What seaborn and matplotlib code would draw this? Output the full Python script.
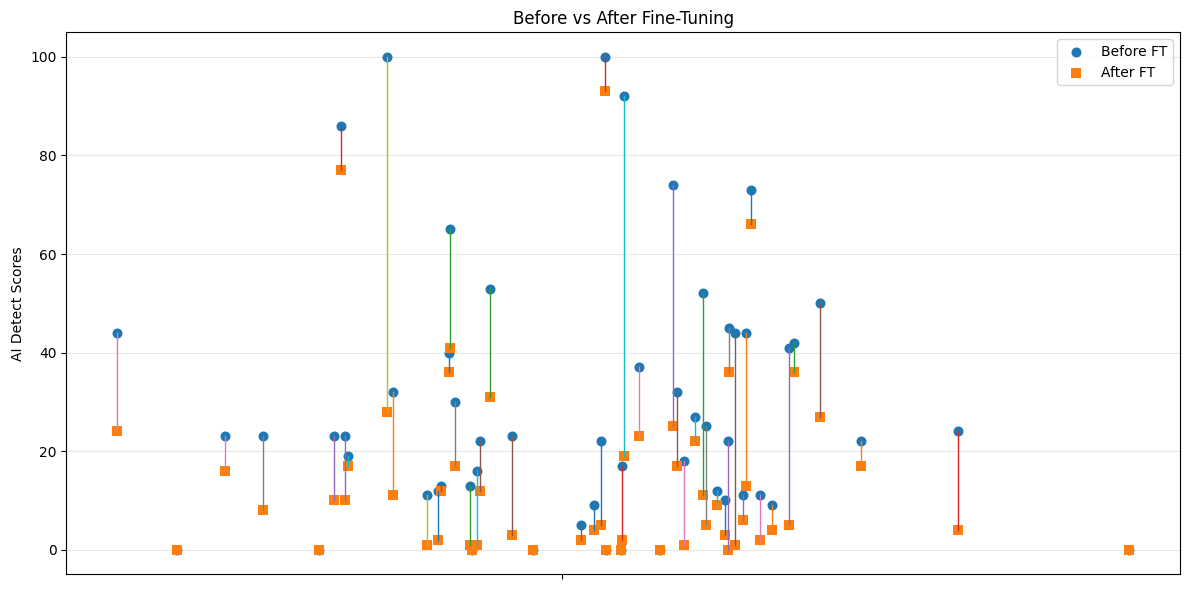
import numpy as np
import pandas as pd
import matplotlib
matplotlib.use('Agg')
import matplotlib.pyplot as plt
import seaborn as sns

# Dados (ordem original das amostras; x = posição da amostra)
posicao = [317, 273, 329, 221, 214, 359, 0, 144, 267, 228,
           328, 621, 349, 320, 225, 390, 107, 334, 306, 356,
           471, 647, 368, 482, 549, 458, 516, 582, 498, 501,
           478, 735, 579, 499, 604, 553, 560, 605, 536, 571,
           601, 59, 669, 831, 618, 610, 635, 483, 1000, 593,
           626, 200, 351, 411, 664, 694]
score_antes = [12, 32, 65, 86, 23, 22, 44, 23, 100, 19,
               40, 44, 13, 13, 23, 23, 23, 30, 11, 16,
               9, 9, 53, 100, 74, 5, 37, 25, 0, 92,
               22, 22, 52, 17, 22, 32, 18, 45, 0, 27,
               10, 0, 42, 24, 11, 44, 11, 0, 0, 12,
               73, 0, 0, 0, 41, 50]
score_depois = [2, 11, 41, 77, 10, 12, 24, 8, 28, 17,
                36, 13, 1, 12, 10, 3, 16, 17, 1, 1,
                4, 4, 31, 93, 25, 2, 23, 5, 0, 19,
                5, 17, 11, 2, 0, 17, 1, 36, 0, 22,
                3, 0, 36, 4, 6, 1, 2, 0, 0, 9,
                66, 0, 0, 0, 5, 27]
tick_meio = 440

df = pd.DataFrame({'x': posicao, 'antes': score_antes, 'depois': score_depois})

fig, ax = plt.subplots(figsize=(11.89, 5.9), dpi=100)

# linhas ligando antes -> depois (ciclo de cores padrão)
for _, row in df.iterrows():
    ax.plot([row['x'], row['x']], [row['antes'], row['depois']], linewidth=1, zorder=3)

sns.scatterplot(data=df, x='x', y='antes', marker='o', color='#1f77b4', s=52,
                linewidth=0, label='Before FT', ax=ax, zorder=1)
sns.scatterplot(data=df, x='x', y='depois', marker='s', color='#ff7f0e', s=52,
                linewidth=0, label='After FT', ax=ax, zorder=2)

ax.set_title('Before vs After Fine-Tuning')
ax.set_ylabel('AI Detect Scores')
ax.set_xlabel('')
ax.set_xticks([tick_meio])
ax.set_xticklabels([''])
ax.grid(True, axis='y', alpha=0.3)
ax.set_axisbelow(True)
ax.legend(loc='upper right')
plt.subplots_adjust(left=0.0558, right=0.9924, top=0.9453, bottom=0.0266)
plt.savefig('out.png', dpi=100)
plt.close()
